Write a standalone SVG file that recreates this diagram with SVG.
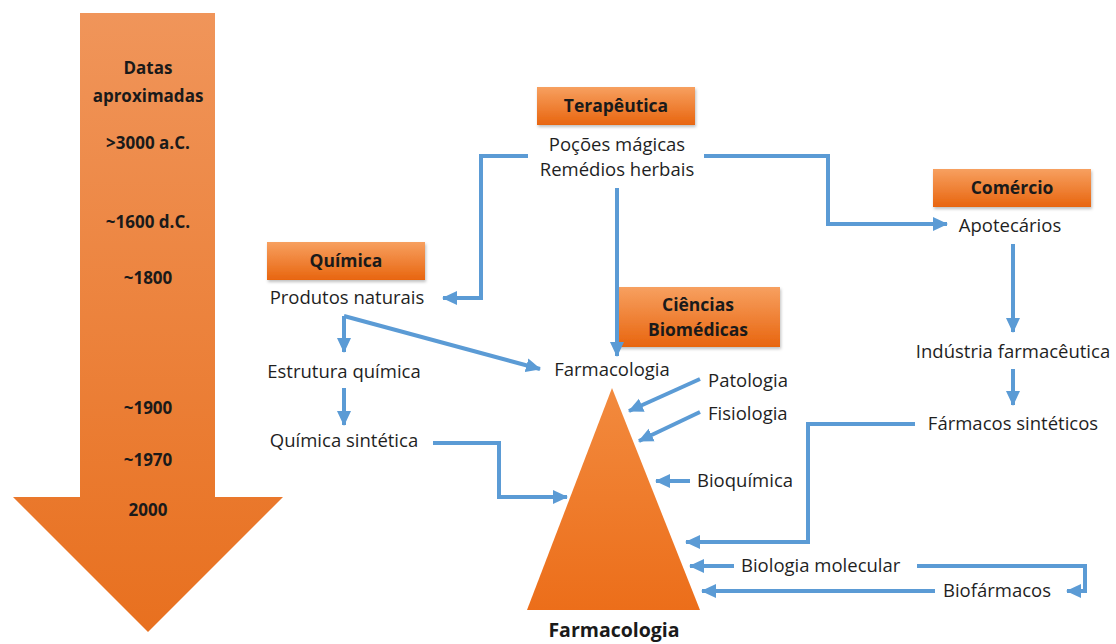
<svg xmlns="http://www.w3.org/2000/svg" width="1116" height="644" viewBox="0 0 1116 644">
<defs>
<linearGradient id="gArrow" x1="0" y1="0" x2="0" y2="1">
<stop offset="0" stop-color="#F0955A"/>
<stop offset="1" stop-color="#E8701F"/>
</linearGradient>
<linearGradient id="gBox" x1="0" y1="0" x2="0" y2="1">
<stop offset="0" stop-color="#F7A060"/>
<stop offset="1" stop-color="#E8650F"/>
</linearGradient>
<linearGradient id="gTri" x1="0" y1="0" x2="0" y2="1">
<stop offset="0" stop-color="#F28A3E"/>
<stop offset="1" stop-color="#EC6E1A"/>
</linearGradient>
<marker id="ah" markerUnits="userSpaceOnUse" markerWidth="16" markerHeight="16" viewBox="0 0 16 16" refX="14" refY="8" orient="auto">
<path d="M0,1 L15,8 L0,15 Z" fill="#5B9BD5"/>
</marker>
<filter id="sh" x="-10%" y="-10%" width="120%" height="140%">
<feDropShadow dx="1" dy="2" stdDeviation="1.5" flood-color="#000" flood-opacity="0.25"/>
</filter>
</defs>
<style>
.box{fill:url(#gBox);filter:url(#sh)}
.bt{font-family:"Open Sans","Liberation Sans",sans-serif;font-weight:bold;font-size:17.5px;fill:#1a1a1a;text-anchor:middle}
.t{font-family:"Open Sans","Liberation Sans",sans-serif;font-size:18.5px;fill:#1f1f1f}
.c{text-anchor:middle}
.at{font-family:"Open Sans","Liberation Sans",sans-serif;font-weight:bold;font-size:17px;fill:#1a1a1a;text-anchor:middle}
.ln{fill:none;stroke:#5B9BD5;stroke-width:4;marker-end:url(#ah)}
</style>

<g id="timeline">
<polygon points="80,13 215,13 215,497 283,497 148,632 13,497 80,497" fill="url(#gArrow)"/>
<text class="at" x="148" y="74">Datas</text>
<text class="at" x="148" y="102">aproximadas</text>
<text class="at" x="148" y="149">&gt;3000 a.C.</text>
<text class="at" x="148" y="228">~1600 d.C.</text>
<text class="at" x="148" y="284">~1800</text>
<text class="at" x="148" y="414">~1900</text>
<text class="at" x="148" y="466">~1970</text>
<text class="at" x="148" y="516">2000</text>
</g>

<g id="terapeutica">
<rect class="box" x="537" y="87" width="158" height="38"/>
<text class="bt" x="616" y="112">Terapêutica</text>
<text class="t c" x="617" y="151">Poções mágicas</text>
<text class="t c" x="617" y="176">Remédios herbais</text>
</g>

<g id="quimica">
<rect class="box" x="267" y="242" width="158" height="38"/>
<text class="bt" x="346" y="267">Química</text>
<text class="t c" x="347" y="304">Produtos naturais</text>
</g>

<g id="comercio">
<rect class="box" x="933" y="169" width="158" height="38"/>
<text class="bt" x="1012" y="194">Comércio</text>
<text class="t c" x="1010" y="232">Apotecários</text>
</g>

<g id="biomedicas">
<rect class="box" x="617" y="287" width="163" height="60"/>
<text class="bt" x="698" y="311">Ciências</text>
<text class="bt" x="698" y="336">Biomédicas</text>
</g>

<g id="farmacologia-top">
<text class="t c" x="612" y="376">Farmacologia</text>
</g>

<g id="estrutura">
<text class="t c" x="344" y="378">Estrutura química</text>
</g>
<g id="quimica-sintetica">
<text class="t c" x="344" y="447">Química sintética</text>
</g>
<g id="industria">
<text class="t c" x="1013" y="358">Indústria farmacêutica</text>
</g>
<g id="farmacos-sinteticos">
<text class="t c" x="1013" y="430">Fármacos sintéticos</text>
</g>
<g id="patologia"><text class="t" x="708" y="387">Patologia</text></g>
<g id="fisiologia"><text class="t" x="708" y="420">Fisiologia</text></g>
<g id="bioquimica"><text class="t" x="697" y="487">Bioquímica</text></g>
<g id="biologia-molecular"><text class="t" x="741" y="572">Biologia molecular</text></g>
<g id="biofarmacos"><text class="t" x="943" y="597">Biofármacos</text></g>

<g id="farmacologia-pyramid">
<polygon points="612,388 700,610 527,610" fill="url(#gTri)"/>
<text class="bt" x="614" y="637" style="font-size:19.5px">Farmacologia</text>
</g>

<g id="connectors">
<polyline class="ln" points="528,156 481,156 481,298 443,298"/>
<polyline class="ln" points="617,188 617,356"/>
<polyline class="ln" points="704,156 828,156 828,224 947,224"/>
<polyline class="ln" points="1013,244 1013,332"/>
<polyline class="ln" points="1013,369 1013,405"/>
<polyline class="ln" points="915,424 808,424 808,542 686,542"/>
<polyline class="ln" points="344,316 344,352"/>
<polyline class="ln" points="344,316 540,369"/>
<polyline class="ln" points="344,388 344,425"/>
<polyline class="ln" points="433,443 499,443 499,497 567,497"/>
<polyline class="ln" points="700,379 629,411"/>
<polyline class="ln" points="700,412 639,441"/>
<polyline class="ln" points="690,481 656,481"/>
<polyline class="ln" points="734,566 690,566"/>
<polyline class="ln" points="917,566 1085,566 1085,591 1067,591"/>
<polyline class="ln" points="935,591 702,591"/>
</g>
</svg>
